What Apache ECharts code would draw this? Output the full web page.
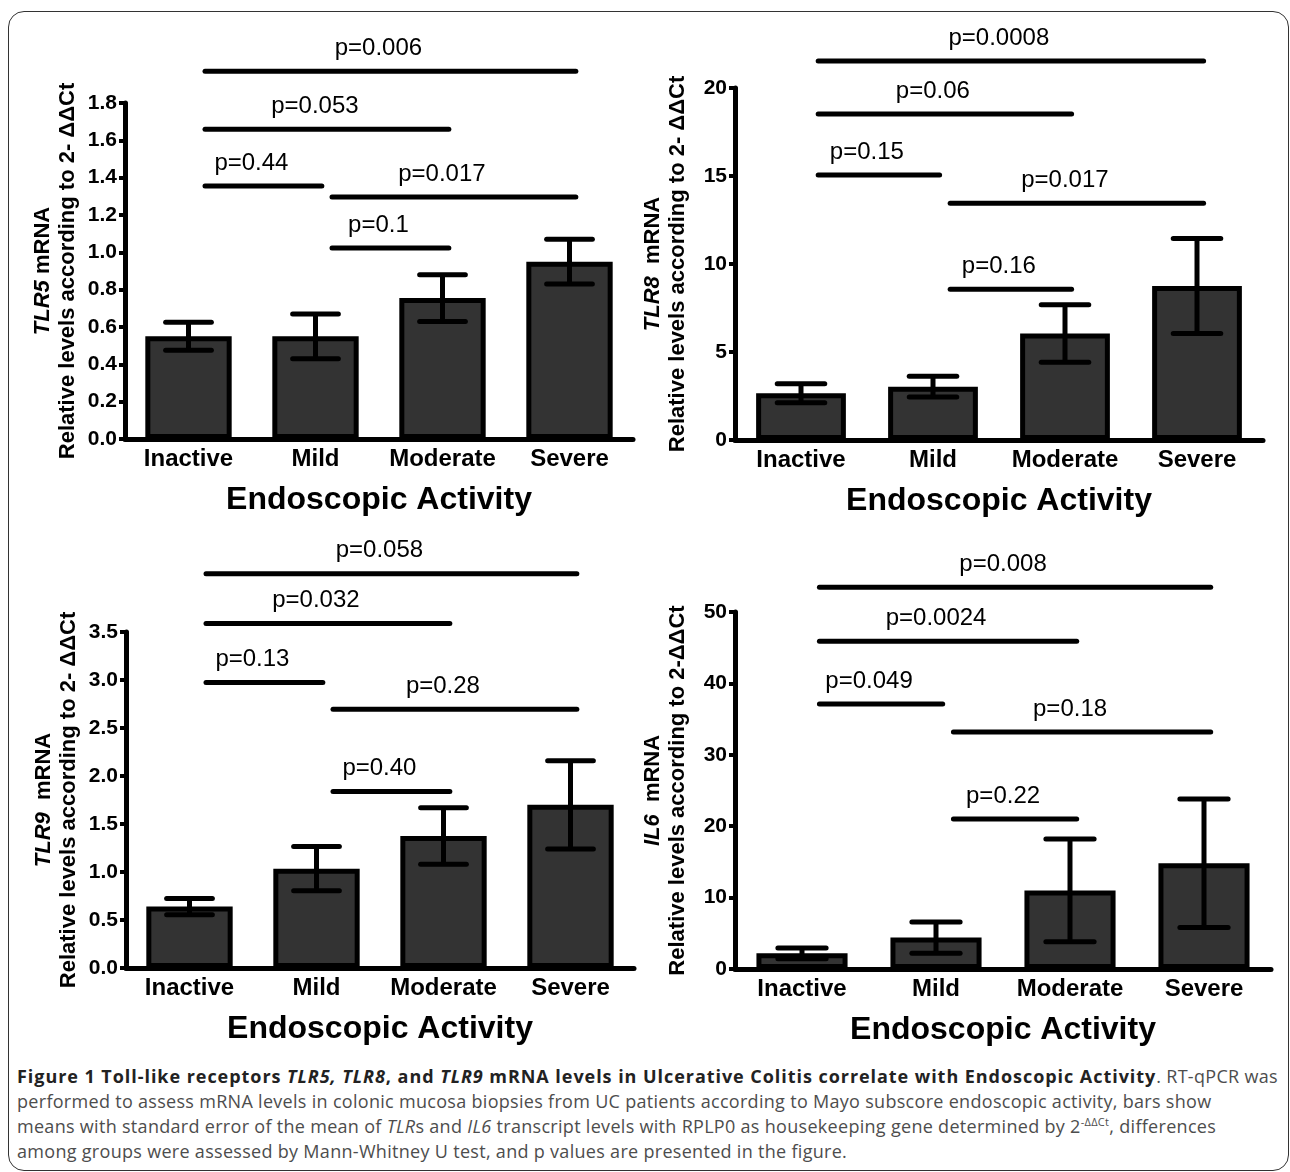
<!DOCTYPE html>
<html>
<head>
<meta charset="utf-8">
<script src="https://cdn.jsdelivr.net/npm/echarts@6/dist/echarts.min.js"></script>
<style>
  body { margin: 0; background: #fff; }
  #frame {
    position: absolute; left: 8px; top: 11px; width: 1281px; height: 1160px;
    box-sizing: border-box; border: 1.5px solid #333; border-radius: 16px;
  }
  #chart { position: absolute; left: 0; top: 0; width: 1290px; height: 1050px; }
  #caption {
    position: absolute; left: 17px; top: 1064px; white-space: nowrap;
    font-family: 'Open Sans', sans-serif; font-size: 18px; letter-spacing: 0.3px; line-height: 25px; color: #4d4d4d;
  }
  #caption b { color: #222; letter-spacing: 0.95px; }
  #caption sup { font-size: 11px; line-height: 0; }
</style>
</head>
<body>
<div id="frame"></div>
<div id="chart"></div>
<div id="caption">
  <b>Figure 1 Toll-like receptors <i>TLR5, TLR8</i>, and <i>TLR9</i> mRNA levels in Ulcerative Colitis correlate with Endoscopic Activity</b>. RT-qPCR was<br>
  performed to assess mRNA levels in colonic mucosa biopsies from UC patients according to Mayo subscore endoscopic activity, bars show<br>
  means with standard error of the mean of <i>TLR</i>s and <i>IL6</i> transcript levels with RPLP0 as housekeeping gene determined by 2<sup>-ΔΔCt</sup>, differences<br>
  among groups were assessed by Mann-Whitney U test, and p values are presented in the figure.
</div>
<script>
const categories = ['Inactive', 'Mild', 'Moderate', 'Severe'];

// means and SEM
const tlr5Mean = [0.55, 0.55, 0.755, 0.95];
const tlr5Sem = [0.075, 0.12, 0.125, 0.12];
const tlr8Mean = [2.65, 3.03, 6.05, 8.75];
const tlr8Sem = [0.54, 0.59, 1.63, 2.7];
const tlr9Mean = [0.64, 1.035, 1.375, 1.70];
const tlr9Sem = [0.085, 0.23, 0.295, 0.46];
const il6Mean = [2.2, 4.4, 11.0, 14.8];
const il6Sem = [0.75, 2.2, 7.2, 9.0];

// p-value brackets: [from category, to category, height, label]
const tlr5Pvals = [[0, 3, 1.97, 'p=0.006'], [0, 2, 1.66, 'p=0.053'], [0, 1, 1.355, 'p=0.44'], [1, 3, 1.296, 'p=0.017'], [1, 2, 1.023, 'p=0.1']];
const tlr8Pvals = [[0, 3, 21.53, 'p=0.0008'], [0, 2, 18.52, 'p=0.06'], [0, 1, 15.06, 'p=0.15'], [1, 3, 13.45, 'p=0.017'], [1, 2, 8.56, 'p=0.16']];
const tlr9Pvals = [[0, 3, 4.107, 'p=0.058'], [0, 2, 3.589, 'p=0.032'], [0, 1, 2.975, 'p=0.13'], [1, 3, 2.696, 'p=0.28'], [1, 2, 1.839, 'p=0.40']];
const il6Pvals = [[0, 3, 53.46, 'p=0.008'], [0, 2, 45.9, 'p=0.0024'], [0, 1, 37.1, 'p=0.049'], [1, 3, 33.2, 'p=0.18'], [1, 2, 21.0, 'p=0.22']];

// y axis ranges: min, max, step
const tlr5Axis = [0, 1.8, 0.2];
const tlr8Axis = [0, 20, 5];
const tlr9Axis = [0, 3.5, 0.5];
const il6Axis = [0, 50, 10];

const FONT = '"Liberation Sans", Arial, sans-serif';

const panels = [
  { gene: 'TLR5', sep: ' ', dash: '2- ', mean: tlr5Mean, sem: tlr5Sem, pvals: tlr5Pvals, axis: tlr5Axis, digits: 1,
    grid: { left: 125, top: 103, width: 508, height: 336 } },
  { gene: 'TLR8', sep: '  ', dash: '2- ', mean: tlr8Mean, sem: tlr8Sem, pvals: tlr8Pvals, axis: tlr8Axis, digits: 0,
    grid: { left: 735, top: 88, width: 528, height: 352 } },
  { gene: 'TLR9', sep: '  ', dash: '2- ', mean: tlr9Mean, sem: tlr9Sem, pvals: tlr9Pvals, axis: tlr9Axis, digits: 1,
    grid: { left: 126, top: 632, width: 508, height: 336 } },
  { gene: 'IL6', sep: '  ', dash: '2-', mean: il6Mean, sem: il6Sem, pvals: il6Pvals, axis: il6Axis, digits: 0,
    grid: { left: 735, top: 612, width: 536, height: 357 } }
];

function errorBarItem(params, api) {
  const x = api.value(0);
  const lo = api.coord([x, api.value(1)]);
  const hi = api.coord([x, api.value(2)]);
  const half = api.size([1, 0])[0] * 0.18;
  const st = { stroke: '#000', lineWidth: 5 };
  return {
    type: 'group',
    children: [
      { type: 'line', shape: { x1: lo[0], y1: lo[1], x2: hi[0], y2: hi[1] }, style: st },
      { type: 'line', shape: { x1: hi[0] - half, y1: hi[1], x2: hi[0] + half, y2: hi[1] }, style: Object.assign({ lineCap: 'round' }, st) },
      { type: 'line', shape: { x1: lo[0] - half, y1: lo[1], x2: lo[0] + half, y2: lo[1] }, style: Object.assign({ lineCap: 'round' }, st) }
    ]
  };
}

function bracketItem(list) {
  return function (params, api) {
    const b = list[params.dataIndex];
    const band = api.size([1, 0])[0];
    const p1 = api.coord([b[0], b[2]]);
    const p2 = api.coord([b[1], b[2]]);
    const x1 = p1[0] + band * 0.13;
    const x2 = p2[0] + band * 0.05;
    return {
      type: 'group',
      children: [
        { type: 'line', shape: { x1: x1, y1: p1[1], x2: x2, y2: p1[1] },
          style: { stroke: '#000', lineWidth: 5, lineCap: 'round' } },
        { type: 'text', x: (x1 + x2) / 2 - 12, y: p1[1] - 11,
          style: { text: b[3], font: '24px ' + FONT, fill: '#000', align: 'center', verticalAlign: 'bottom' } }
      ]
    };
  };
}

const grid = [], xAxis = [], yAxis = [], series = [];
panels.forEach(function (p, i) {
  grid.push(Object.assign({ outerBoundsMode: 'none' }, p.grid));
  xAxis.push({
    type: 'category', gridIndex: i, data: categories,
    axisLine: { lineStyle: { color: '#000', width: 5 } },
    axisTick: { alignWithLabel: true, length: 6, lineStyle: { color: '#000', width: 4 } },
    axisLabel: { interval: 0, color: '#000', fontSize: 24, fontWeight: 'bold', fontFamily: FONT, margin: 8 },
    name: 'Endoscopic Activity', nameLocation: 'middle', nameGap: 45,
    nameTextStyle: { color: '#000', fontSize: 32, fontWeight: 'bold', fontFamily: FONT, lineHeight: 32 }
  });
  yAxis.push({
    type: 'value', gridIndex: i, min: p.axis[0], max: p.axis[1], interval: p.axis[2],
    axisLine: { show: true, lineStyle: { color: '#000', width: 5 } },
    axisTick: { show: true, length: 6, lineStyle: { color: '#000', width: 4 } },
    splitLine: { show: false },
    axisLabel: { color: '#000', fontSize: 21, fontWeight: 'bold', fontFamily: FONT, margin: 8,
      formatter: function (v) { return v.toFixed(p.digits); } },
    name: '{i|' + p.gene + '}{b|' + p.sep + 'mRNA}\n{b|Relative levels according to ' + p.dash + 'ΔΔCt}',
    nameLocation: 'middle', nameRotate: 90, nameGap: 45,
    nameTextStyle: {
      color: '#000', fontSize: 22, fontWeight: 'bold', fontFamily: FONT, lineHeight: 25,
      rich: {
        i: { fontSize: 22, fontWeight: 'bold', fontStyle: 'italic', fontFamily: FONT, lineHeight: 25, color: '#000' },
        b: { fontSize: 22, fontWeight: 'bold', fontFamily: FONT, lineHeight: 25, color: '#000' }
      }
    }
  });
  series.push({
    type: 'bar', xAxisIndex: i, yAxisIndex: i, data: p.mean, barWidth: '68%',
    itemStyle: { color: '#333', borderColor: '#000', borderWidth: 5 }
  });
  series.push({
    type: 'custom', xAxisIndex: i, yAxisIndex: i, clip: false,
    data: p.mean.map(function (m, k) { return [k, m - p.sem[k], m + p.sem[k]]; }),
    encode: { x: 0, y: [1, 2] },
    renderItem: errorBarItem, z: 3
  });
  series.push({
    type: 'custom', xAxisIndex: i, yAxisIndex: i, clip: false,
    data: p.pvals.map(function (b) { return [b[0], b[2]]; }),
    encode: { x: 0, y: 1 },
    renderItem: bracketItem(p.pvals), z: 3
  });
});

const chart = echarts.init(document.getElementById('chart'));
chart.setOption({ animation: false, grid: grid, xAxis: xAxis, yAxis: yAxis, series: series });
</script>
</body>
</html>
